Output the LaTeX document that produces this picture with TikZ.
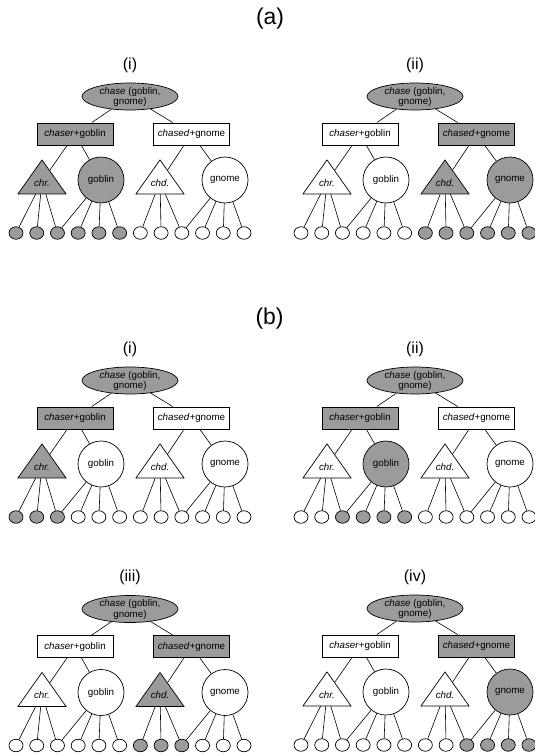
\documentclass[tikz,border=0pt]{standalone}
\usepackage{fontspec}
\setmainfont{Liberation Sans}
\usetikzlibrary{shapes.geometric,calc}
\definecolor{gr}{RGB}{155,155,155}
\tikzset{
 every node/.style={font=\fontsize{9.8}{10.7}\selectfont},
 edgeline/.style={draw=black, line width=0.6bp},
 rootnode/.style={ellipse, draw, line width=0.7bp, fill=gr, minimum width=96bp, minimum height=27bp, inner sep=0pt},
 roottext/.style={align=center, inner sep=0pt},
 boxnode/.style={rectangle, draw, line width=1bp, minimum width=76bp, minimum height=22bp, inner sep=0pt},
 trinode/.style={isosceles triangle, isosceles triangle stretches, shape border rotate=90, minimum width=48bp, minimum height=34bp, inner sep=0pt, draw, line width=0.7bp},
 circnode/.style={circle, draw, line width=0.7bp, minimum size=46bp, inner sep=0pt},
 leafnode/.style={ellipse, draw, line width=0.7bp, minimum width=14bp, minimum height=12.5bp, inner sep=0pt},
 sublabel/.style={font=\fontsize{16}{18}\selectfont},
 titlelabel/.style={font=\fontsize{23}{26}\selectfont},
}
\newcommand\setfills[6]{\def\cbl{#1}\def\ctl{#2}\def\ccl{#3}\def\cbr{#4}\def\ctr{#5}\def\ccr{#6}}
\newcommand\mytree[5]{%
\begin{scope}[shift={(#2,#3)}]
 \node[sublabel] (#1lab) at (0,-31.5) {#4};
 \node[rootnode] (#1root) at (0,0) {};
 \node[roottext] (#1roottext) at (0,0.5) {\textit{chase} (goblin,\\gnome)};
 \node[boxnode, fill=\cbl] (#1bl) at (-55,37.5) {\textit{chaser}+goblin};
 \node[boxnode, fill=\cbr] (#1br) at (61.5,37.5) {\textit{chased}+gnome};
 \node[trinode, fill=\ctl, anchor=apex] (#1tl) at (-88,62.5) {};
 \node (#1tltext) at (-88,86.5) {\textit{chr.}};
 \node[trinode, fill=\ctr, anchor=apex] (#1tr) at (30,62.5) {};
 \node (#1trtext) at (30,86.5) {\textit{chd.}};
 \node[circnode, fill=\ccl] (#1cl) at (-29,83.5) {goblin};
 \node[circnode, fill=\ccr] (#1cr) at (95,83.5) {gnome};
 \foreach \lc [count=\i] in {#5} {\node[leafnode, fill=\lc] (#1leaf\i) at ({-114+(\i-1)*20.727},136.5) {};}
 \draw[edgeline] (#1root) -- (#1bl);
 \draw[edgeline] (#1root) -- (#1br);
 \draw[edgeline] (#1bl) -- (#1tl);
 \draw[edgeline] (#1bl) -- (#1cl);
 \draw[edgeline] (#1br) -- (#1tr);
 \draw[edgeline] (#1br) -- (#1cr);
 \foreach \i in {1,2,3} {\draw[edgeline] (#1tl) -- (#1leaf\i);}
 \foreach \i in {3,4,5,6} {\draw[edgeline] (#1cl) -- (#1leaf\i);}
 \foreach \i in {7,8,9} {\draw[edgeline] (#1tr) -- (#1leaf\i);}
 \foreach \i in {9,10,11,12} {\draw[edgeline] (#1cr) -- (#1leaf\i);}
\end{scope}}
\begin{document}
\begin{tikzpicture}[x=1bp,y=-1bp]
\useasboundingbox (0,0) rectangle (535,756);
\node[titlelabel] (ta) at (270,18.5) {(a)};
\node[titlelabel] (tb) at (269.5,318.5) {(b)};
\setfills{gr}{gr}{gr}{white}{white}{white}
\mytree{ai}{130}{96.5}{(i)}{gr,gr,gr,gr,gr,gr,white,white,white,white,white,white}
\setfills{white}{white}{white}{gr}{gr}{gr}
\mytree{aii}{415}{96.5}{(ii)}{white,white,white,white,white,white,gr,gr,gr,gr,gr,gr}
\setfills{gr}{gr}{white}{white}{white}{white}
\mytree{bi}{130}{380.5}{(i)}{gr,gr,gr,white,white,white,white,white,white,white,white,white}
\setfills{gr}{white}{gr}{white}{white}{white}
\mytree{bii}{415}{380.5}{(ii)}{white,white,gr,gr,gr,gr,white,white,white,white,white,white}
\setfills{white}{white}{white}{gr}{gr}{white}
\mytree{biii}{130}{609}{(iii)}{white,white,white,white,white,white,gr,gr,gr,white,white,white}
\setfills{white}{white}{white}{gr}{white}{gr}
\mytree{biv}{415}{608.5}{(iv)}{white,white,white,white,white,white,white,white,gr,gr,gr,gr}
\end{tikzpicture}
\end{document}
